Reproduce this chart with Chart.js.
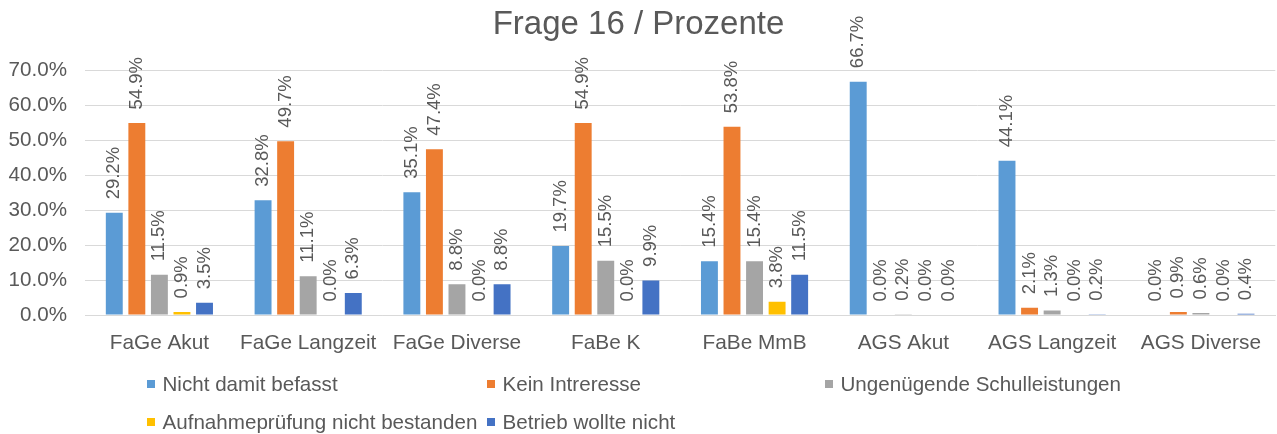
<!DOCTYPE html>
<html>
<head>
<meta charset="utf-8">
<script src="https://cdn.jsdelivr.net/npm/chart.js@4/dist/chart.umd.min.js"></script>
<style>
  body { margin: 0; background: #fff; }
  #wrap { position: relative; width: 1277px; height: 434px; }
  #legend {
    position: absolute; left: 147px; top: 372px;
    display: grid; grid-template-columns: 340px 338px 340px; row-gap: 13.5px;
    font-family: "Liberation Sans", Arial, sans-serif; font-size: 20.6px; color: #595959;
  }
  .item { display: flex; align-items: center; height: 24px; white-space: nowrap; }
  .box { width: 8px; height: 8px; margin-right: 7.5px; flex: none; }
</style>
</head>
<body>
<div id="wrap">
  <canvas id="chart" width="1277" height="434"></canvas>
  <div id="legend"></div>
</div>
<script>
const categories = ["FaGe Akut", "FaGe Langzeit", "FaGe Diverse", "FaBe K", "FaBe MmB", "AGS Akut", "AGS Langzeit", "AGS Diverse"];
const seriesNames = ["Nicht damit befasst", "Kein Intreresse", "Ungenügende Schulleistungen", "Aufnahmeprüfung nicht bestanden", "Betrieb wollte nicht"];
const nichtBefasst = [29.2, 32.8, 35.1, 19.7, 15.4, 66.7, 44.1, 0.0];
const keinInteresse = [54.9, 49.7, 47.4, 54.9, 53.8, 0.0, 2.1, 0.9];
const schulleistungen = [11.5, 11.1, 8.8, 15.5, 15.4, 0.2, 1.3, 0.6];
const aufnahmepruefung = [0.9, 0.0, 0.0, 0.0, 3.8, 0.0, 0.0, 0.0];
const betriebWollteNicht = [3.5, 6.3, 8.8, 9.9, 11.5, 0.0, 0.2, 0.4];
const yTicks = [0, 10, 20, 30, 40, 50, 60, 70];

const colors = ["#5B9BD5", "#ED7D31", "#A5A5A5", "#FFC000", "#4472C4"];
const values = [nichtBefasst, keinInteresse, schulleistungen, aufnahmepruefung, betriebWollteNicht];
const font = "'Liberation Sans', Arial, sans-serif";
const grey = "#595959";

// rotated value labels above each bar
const barLabels = {
  id: "barLabels",
  afterDatasetsDraw(chart) {
    const ctx = chart.ctx;
    ctx.save();
    ctx.fillStyle = grey;
    ctx.font = "18.5px " + font;
    ctx.textAlign = "left";
    ctx.textBaseline = "middle";
    chart.data.datasets.forEach((ds, i) => {
      chart.getDatasetMeta(i).data.forEach((bar, j) => {
        ctx.save();
        ctx.translate(bar.x, bar.y - 13.5);
        ctx.rotate(-Math.PI / 2);
        ctx.fillText(ds.data[j].toFixed(1) + "%", 0, 0);
        ctx.restore();
      });
    });
    ctx.restore();
  }
};

const chart = new Chart(document.getElementById("chart"), {
  type: "bar",
  data: {
    labels: categories,
    datasets: seriesNames.map((name, i) => ({
      label: name,
      data: values[i],
      backgroundColor: colors[i],
      categoryPercentage: 0.758,
      barPercentage: 0.75
    }))
  },
  options: {
    responsive: false,
    animation: false,
    layout: { padding: { left: 0, right: 0, top: 0, bottom: 62 } },
    plugins: {
      legend: { display: false },
      tooltip: { enabled: false },
      title: {
        display: true,
        text: "Frage 16 / Prozente",
        color: grey,
        font: { family: font, size: 33, weight: "normal" },
        padding: { top: 5.5, bottom: 25 }
      }
    },
    scales: {
      x: {
        grid: { display: false, drawTicks: false },
        border: { color: "#D9D9D9" },
        ticks: { color: grey, font: { family: font, size: 20.8 }, padding: 16, maxRotation: 0, autoSkip: false }
      },
      y: {
        min: 0,
        max: 70,
        afterFit(scale) { scale.width = 85; },
        afterBuildTicks(scale) { scale.ticks = yTicks.map(v => ({ value: v })); },
        grid: { color: "#D9D9D9", drawTicks: false },
        border: { display: false },
        ticks: {
          color: grey,
          font: { family: font, size: 20.6 },
          padding: 18,
          callback: v => v.toFixed(1) + "%"
        }
      }
    }
  },
  plugins: [barLabels]
});

const legend = document.getElementById("legend");
chart.data.datasets.forEach(ds => {
  const item = document.createElement("div");
  item.className = "item";
  item.innerHTML = `<span class="box" style="background:${ds.backgroundColor}"></span>${ds.label}`;
  legend.appendChild(item);
});
</script>
</body>
</html>
